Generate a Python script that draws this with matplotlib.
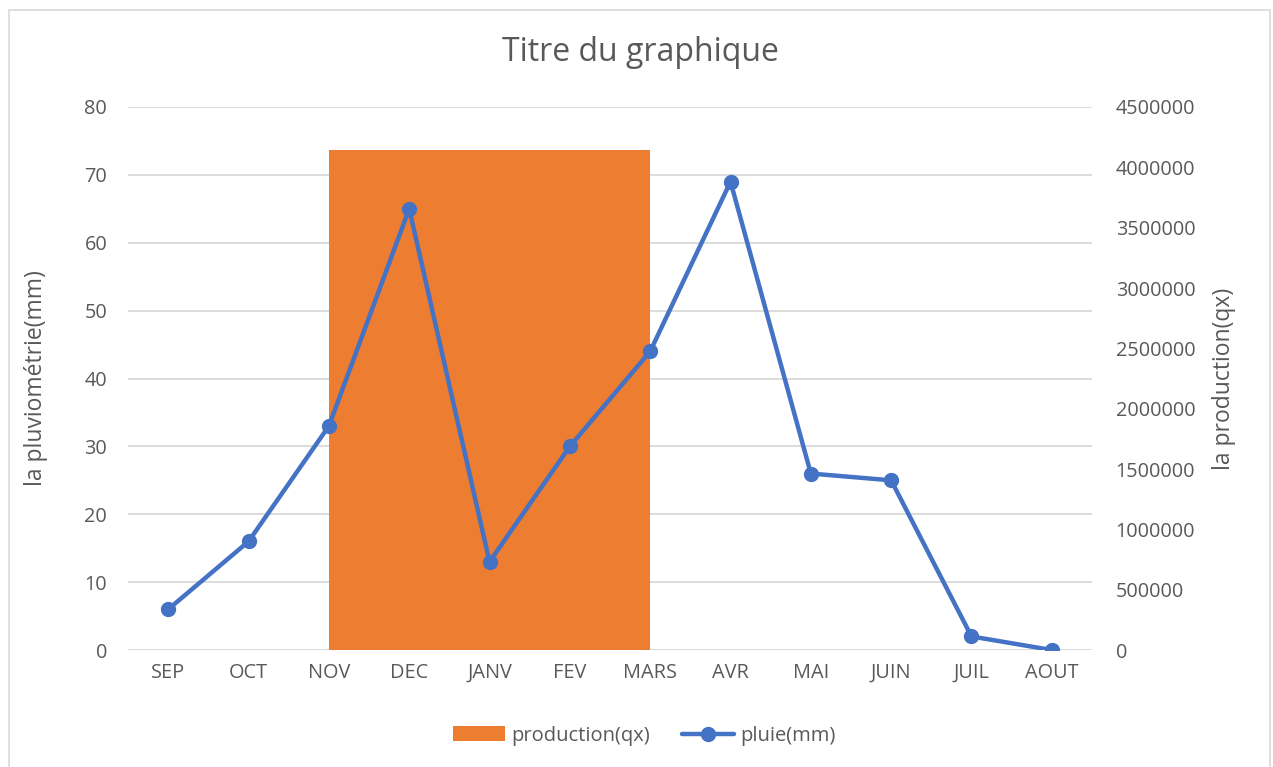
import matplotlib.pyplot as plt
from matplotlib.patches import Rectangle

months = ["SEP", "OCT", "NOV", "DEC", "JANV", "FEV", "MARS", "AVR", "MAI", "JUIN", "JUIL", "AOUT"]
pluie = [6, 16, 33, 65, 13, 30, 44, 69, 26, 25, 2, 0]
prod_month = ["JANV"]
production = [4140000]

plt.rcParams['font.family'] = ['Open Sans', 'DejaVu Sans']
grey = "#595959"

fig = plt.figure(figsize=(12.73, 7.67), dpi=100)
fig.patches.append(Rectangle((9 / 1273, -0.05), 1261 / 1273, 1.05 - 10 / 767, transform=fig.transFigure,
                             fill=False, edgecolor="#D9D9D9", linewidth=1.2))

ax = fig.add_axes([0.1006, 0.1525, 0.7572, 0.708])
x = list(range(len(months)))

# gridlines live on the left (pluie) axis, behind everything
ax.set_ylim(0, 80)
ax.set_yticks(range(0, 81, 10))
ax.yaxis.grid(True, color="#D9D9D9", linewidth=1.3)
ax.set_axisbelow(True)
ax.set_xlim(-0.5, 11.5)
ax.set_xticks(x)
ax.set_xticklabels(months)
ax.set_ylabel("la pluviométrie(mm)", fontsize=16.5, color=grey, labelpad=26)

# production bar on the secondary axis
ax2 = ax.twinx()
pos = [months.index(m) for m in prod_month]
bars = ax2.bar(pos, production, width=4, color="#ED7D31", label="production(qx)", zorder=2)
ax2.set_ylim(0, 4500000)
ax2.set_yticks(range(0, 4500001, 500000))
ax2.set_yticklabels([str(v) for v in range(0, 4500001, 500000)])
ax2.set_ylabel("la production(qx)", fontsize=16.5, color=grey, labelpad=12)

# rain line on top, same scale as left axis
ax3 = ax.twinx()
ax3.set_ylim(0, 80)
line, = ax3.plot(x, pluie, color="#4472C4", linewidth=3.2, marker="o", markersize=10,
                 label="pluie(mm)", solid_capstyle="round")
ax3.set_yticks([])

for a in (ax, ax2, ax3):
    for s in a.spines.values():
        s.set_visible(False)
    a.tick_params(length=0, labelsize=14.3, labelcolor=grey)
    a.patch.set_visible(False)
ax.tick_params(axis="x", pad=9)
ax.tick_params(axis="y", pad=15)
ax2.tick_params(axis="y", pad=17)

fig.text(0.503, 0.931, "Titre du graphique", ha="center", va="center", fontsize=23, color=grey)

fig.legend([bars, line], ["production(qx)", "pluie(mm)"], loc="center", bbox_to_anchor=(0.506, 0.041),
           ncol=2, frameon=False, fontsize=14.5, labelcolor=grey, handlelength=2.6, columnspacing=1.6,
           handletextpad=0.3)

fig.savefig("out.png", dpi=100)
